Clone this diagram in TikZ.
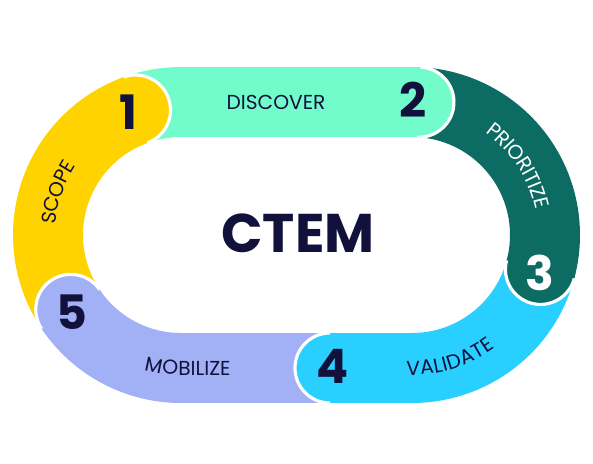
\documentclass[tikz,border=0pt]{standalone}
\usepackage{fontspec}
\setmainfont{Poppins}
\usetikzlibrary{calc,decorations.text}
\definecolor{scopeyellow}{HTML}{FFD300}
\definecolor{discovermint}{HTML}{72FCCB}
\definecolor{prioritizeteal}{HTML}{0C6B62}
\definecolor{validatecyan}{HTML}{29CFFF}
\definecolor{mobilizeblue}{HTML}{A2B1F6}
\definecolor{ctemnavy}{HTML}{11113B}
\newcommand\stagefont{\fontsize{11.5}{13}\selectfont}

\begin{document}
\begin{tikzpicture}[
x = 0.02cm, y = 0.02cm,
band/.style = {line width=1.4cm},
capline/.style = {draw=white, line width=1.8pt},
digit/.style = {font=\fontsize{27}{30}\selectfont\bfseries,
                text=ctemnavy, inner sep=0pt},
stage/.style = {font=\stagefont, text=ctemnavy, inner sep=0pt},
along/.style args={#1 in #2}{
    decorate,
    decoration={text along path, text align=center, raise=-4pt,
                text color=#2, text={|\stagefont|#1}}
}
                ]
\useasboundingbox (0,0) rectangle (593,464);
%% centres of the two round ends
\coordinate (L) at (181,229);
\coordinate (R) at (412,229);
%% end of each stage
\coordinate (e1) at ($(L)+(110:133)$);
\coordinate (e2) at ($(R)+(87:133)$);
\coordinate (e3) at ($(R)+(-15:133)$);
\coordinate (e4) at (330,96);
\coordinate (e5) at ($(L)+(214:133)$);
%% bands
\draw[band, scopeyellow] (e5) arc[start angle=214, end angle=110, radius=133];
\draw[band, discovermint] (e1) arc[start angle=110, end angle=90, radius=133]
    -- (412,362) arc[start angle=90, end angle=87, radius=133];
\draw[band, prioritizeteal] (e2) arc[start angle=87, end angle=-15, radius=133];
\draw[band, validatecyan] (e3) arc[start angle=-15, end angle=-90, radius=133]
    -- (e4);
\draw[band, mobilizeblue] (e4) -- (181,96) arc[start angle=270, end angle=214, radius=133];
%% round caps
\fill[scopeyellow] (e1) circle[radius=35];
\draw[capline] (e1) ++(110:35) arc[start angle=110, end angle=-70, radius=35];
\fill[discovermint] (e2) circle[radius=35];
\draw[capline] (e2) ++(87:35) arc[start angle=87, end angle=-93, radius=35];
\fill[prioritizeteal] (e3) circle[radius=35];
\draw[capline] (e3) ++(-15:35) arc[start angle=-15, end angle=-195, radius=35];
\fill[validatecyan] (e4) circle[radius=35];
\draw[capline] (e4) ++(270:35) arc[start angle=270, end angle=90, radius=35];
\fill[mobilizeblue] (e5) circle[radius=35];
\draw[capline] (e5) ++(214:35) arc[start angle=214, end angle=34, radius=35];
%% stage names
\path[along=SCOPE in ctemnavy] ($(L)+(180:133)$) arc[start angle=180, end angle=142, radius=133];
\node (discover) at (276,362) [stage] {DISCOVER};
\path[along=PRIORITIZE in white] ($(R)+(64:133)$) arc[start angle=64, end angle=2, radius=133];
\path[along=VALIDATE in ctemnavy] ($(R)+(-98:133)$) arc[start angle=-98, end angle=-48, radius=133];
\path[along=MOBILIZE in ctemnavy] ($(L)+(250:133)$) arc[start angle=250, end angle=270, radius=133]
    -- (241,96);
%% numbers
\node (n1) at (128,352) [digit] {1};
\node (n2) at (413,364) [digit] {2};
\node (n3) at (540,191) [digit, text=white] {3};
\node (n4) at (333,98) [digit] {4};
\node (n5) at (72,152) [digit] {5};
\node (ctem) at (298,231) [font=\fontsize{31}{34}\selectfont\bfseries, text=ctemnavy] {CTEM};
\end{tikzpicture}
\end{document}
